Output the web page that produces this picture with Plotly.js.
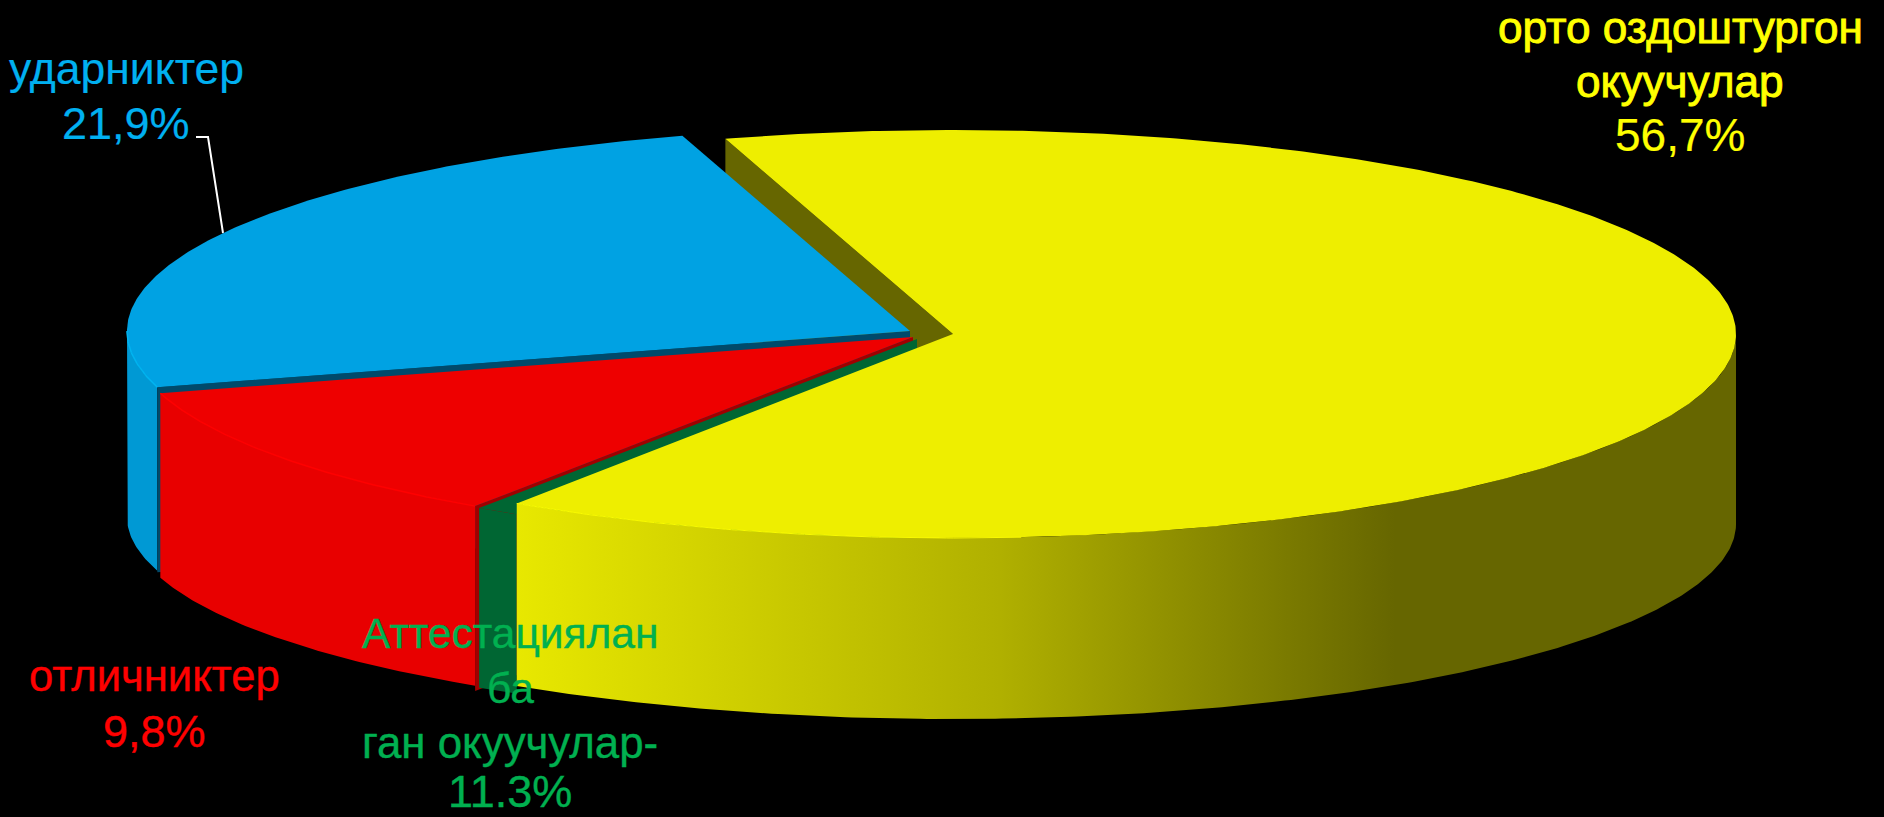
<!DOCTYPE html>
<html><head><meta charset="utf-8">
<script src="https://cdn.plot.ly/plotly-3.0.1.min.js"></script>
<style>html,body{margin:0;padding:0;background:#000;overflow:hidden}#c{width:1884px;height:817px}</style>
</head><body><div id="c"></div>
<script>
// ---- data ----
const categories = ['орто оздоштургон окуучулар', 'Аттестацияланган окуучулар', 'отличниктер', 'ударниктер'];
const labelledPercent = [56.7, 11.3, 9.8, 21.9];
// sweep of each slice as actually drawn in the tilted pie (percent of the full turn)
const drawnShare = [64.1, 0.04, 11.11, 24.75];
const labelLines = [
  ['орто оздоштургон', 'окуучулар', '56,7%'],
  ['Аттестациялан', 'ба', 'ган окуучулар-', '11.3%'],
  ['отличниктер', '9,8%'],
  ['ударниктер', '21,9%']
];
// ---- styling and geometry ----
const topColor = ['#EEEE00', '#006633', '#EE0000', '#00A2E3'];
const rimColor = ['#FAFA00', '#006633', '#FF0000', '#00B4F0'];
const cutColor = ['#666600', '#006633', '#A00000', '#004A6B'];
const sideColor = ['#E8E800', '#006633', '#E80000', '#0099D4'];
const textColor = ['#FFFF00', '#00B050', '#FF0000', '#00B0F0'];
const centers = [[953, 334], [917, 339], [913, 337], [910, 331]];
const drops = [190, 187, 187, 186];
const labelX = [1680, 510, 154, 126];
const labelBase = [[42, 96, 150], [648, 703, 757, 806], [690, 746], [83, 138]];
const labelSize = [[44.2, 44.2, 46], [42.5, 42.5, 43.8, 45], [43.6, 45], [44.5, 45]];
const labelStroke = [[0.9, 0.9, 0.2], [0.4, 0.4, 0.4, 0.4], [0.4, 0.4], [0.2, 0.2]];
const RX = 783, RY = 204, RYB = 195, CUT = 185, START = -16.9;

// ---- slice angles from shares ----
const angles = [];
let a = START;
drawnShare.forEach(s => { const b = a + s * 3.6; angles.push([a, b]); a = b; });

const rad = d => d * Math.PI / 180;
const topPt = (i, d) => [centers[i][0] + RX * Math.sin(rad(d)), centers[i][1] - RY * Math.cos(rad(d))];
const botPt = (i, d) => [centers[i][0] + RX * Math.sin(rad(d)), centers[i][1] + drops[i] - RYB * Math.cos(rad(d))];
function arc(fn, i, from, to) {
  const n = Math.max(2, Math.ceil(Math.abs(to - from) * 2)), out = [];
  for (let k = 0; k <= n; k++) out.push(fn(i, from + (to - from) * k / n));
  return out;
}
function poly(pts, color, extra) {
  return Object.assign({
    type: 'scatter', mode: 'lines', x: pts.map(p => p[0]), y: pts.map(p => p[1]),
    fill: 'toself', fillcolor: color, line: { width: 0, color: color }, hoverinfo: 'skip', showlegend: false
  }, extra || {});
}
const wedge = (i, from, to, color) => poly([centers[i]].concat(arc(topPt, i, from, to), [centers[i]]), color);
const side = (i, from, to, color, extra) => poly(arc(topPt, i, from, to).concat(arc(botPt, i, to, from)), color, extra);
function cut(i, d, color) {
  const c = centers[i], p = topPt(i, d);
  return poly([c, p, [p[0], p[1] + CUT], [c[0], c[1] + CUT], c], color);
}
function rim(i, from, to, color, w) {
  const pts = arc(topPt, i, from, to);
  return { type: 'scatter', mode: 'lines', x: pts.map(p => p[0]), y: pts.map(p => p[1]),
    line: { color: color, width: w }, hoverinfo: 'skip', showlegend: false };
}

const Y = 0, G = 1, R = 2, B = 3;
const greenSideFrom = Math.asin((topPt(Y, angles[Y][1])[0] - centers[G][0]) / RX) * 180 / Math.PI;
const traces = [
  cut(Y, angles[Y][0], cutColor[Y]),
  side(B, angles[B][0], 270, sideColor[B]),
  cut(B, angles[B][0], cutColor[B]),
  wedge(B, angles[B][0], angles[B][1], topColor[B]),
  rim(B, angles[B][0], 270, rimColor[B], 1.5),
  cut(R, angles[R][0], cutColor[R]),
  wedge(G, 180, angles[G][1], topColor[G]),
  side(G, 180 - greenSideFrom, angles[G][1], sideColor[G]),
  side(R, angles[R][0], angles[R][1], sideColor[R]),
  wedge(R, angles[R][0], angles[R][1], topColor[R]),
  rim(R, angles[R][0], angles[R][1], rimColor[R], 1.5),
  side(Y, 90, angles[Y][1], sideColor[Y], {
    fillgradient: { type: 'horizontal', start: 517, stop: 1395,
      colorscale: [[0, '#E8E800'], [0.55, '#B0B000'], [1, '#666600']] }
  }),
  wedge(Y, angles[Y][0], angles[Y][1], topColor[Y]),
  rim(Y, 175, angles[Y][1], rimColor[Y], 1),
  { type: 'scatter', mode: 'lines', x: [196, 208, 223], y: [137, 137, 233],
    line: { color: '#FFFFFF', width: 2 }, hoverinfo: 'skip', showlegend: false }
];

const annotations = [];
labelLines.forEach((lines, i) => lines.forEach((t, j) => annotations.push({
  x: labelX[i], y: labelBase[i][j] - labelSize[i][j] * 0.33, xref: 'x', yref: 'y', text: t, showarrow: false,
  borderpad: 0, xanchor: 'center', yanchor: 'middle',
  font: { family: 'Liberation Sans', size: labelSize[i][j], color: textColor[i] }
})));

Plotly.newPlot('c', traces, {
  width: 1884, height: 817, margin: { l: 0, r: 0, t: 0, b: 0 },
  paper_bgcolor: '#000', plot_bgcolor: '#000', showlegend: false, annotations: annotations,
  xaxis: { range: [0, 1884], visible: false, fixedrange: true },
  yaxis: { range: [817, 0], visible: false, fixedrange: true }
}, { staticPlot: true, displayModeBar: false }).then(() => {
  const widths = labelStroke.flat();
  document.querySelectorAll('.annotation-text').forEach((t, k) => {
    t.style.stroke = t.style.fill;
    t.style.strokeWidth = widths[k] + 'px';
  });
});
</script></body></html>
